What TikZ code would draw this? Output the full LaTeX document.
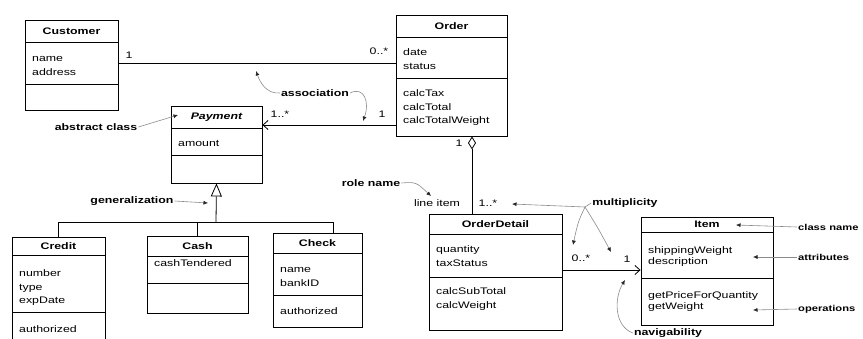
\documentclass[tikz,border=0pt]{standalone}
\usepackage{fontspec}
\setmainfont[FakeStretch=1.3]{Liberation Sans}
\usetikzlibrary{arrows.meta,fit,calc}

% geometry of a class box: left/top/right/divider1/divider2/bottom/attr-baseline/op-baseline/line-pitch
\def\bxgeom#1/#2/#3/#4/#5/#6/#7/#8/#9\relax{%
  \def\bxL{#1}\def\bxT{#2}\def\bxR{#3}\def\bxA{#4}\def\bxB{#5}%
  \def\bxD{#6}\def\bxP{#7}\def\bxQ{#8}\def\bxS{#9}}

% \umlclass{name}{geometry}{title}{attributes}{operations}
\newcommand\umlclass[5]{%
  \bxgeom#2\relax
  \node[classbox, fit={(\bxL,\bxT) (\bxR,\bxD)}] (#1) {};
  \draw[classline] (\bxL,\bxA) -- (\bxR,\bxA);
  \draw[classline] (\bxL,\bxB) -- (\bxR,\bxB);
  \node[classtitle] (#1-title) at ({(\bxL+\bxR)/2},{(\bxT+\bxA)/2}) {#3};
  \node[members] (#1-attrs) at (\bxL+7,\bxP-8) {\rule{0pt}{8pt}#4};
  \def\bxops{#5}%
  \ifx\bxops\empty\else
    \node[members] (#1-ops) at (\bxL+7,\bxQ-8) {\rule{0pt}{8pt}#5};
  \fi}

\tikzset{
  classbox/.style={draw=black, line width=0.9pt, inner sep=0pt, fill=white},
  classline/.style={draw=black, line width=0.9pt},
  classtitle/.style={inner sep=0pt, font=\bfseries\fontsize{9.5}{11}\selectfont},
  members/.style={inner sep=0pt, anchor=north west, align=left,
    font=\fontsize{9.5}{\bxS}\selectfont},
  link/.style={draw=black, line width=0.8pt},
  navlink/.style={link, -{Straight Barb[length=5pt,width=9pt]}},
  genlink/.style={link, -{Triangle[open,fill=white,length=13pt,width=11pt]}},
  agglink/.style={link, {Diamond[open,fill=white,length=13pt,width=8pt]}-},
  mult/.style={inner sep=1pt, font=\fontsize{9.5}{11}\selectfont},
  note/.style={inner sep=1pt, font=\bfseries\fontsize{9.5}{11}\selectfont},
  sidenote/.style={inner sep=1pt, anchor=west, font=\bfseries\fontsize{8.6}{10}\selectfont},
  annot/.style={draw=black!45, line width=0.6pt,
    -{Latex[length=4.5pt,width=4pt,color=black!85]}},
  annotplain/.style={draw=black!45, line width=0.6pt},
}

\begin{document}
\begin{tikzpicture}[x=1pt, y=-1pt]
\useasboundingbox (0,0) rectangle (863,338);
\fill[white] (0,0) rectangle (863,338);

% ---- classes ----
\umlclass{customer}{25/20/118/42/84/110/61.5/0/13.5}{Customer}{name\\address}{}
\umlclass{order}{396/15/507/37/78/136/55.5/96.5/13.5}{Order}{date\\status}{calcTax\\calcTotal\\calcTotalWeight}
\umlclass{payment}{171/106/262/128/155/183/146.5/0/13.5}{\itshape Payment}{amount}{}
\umlclass{credit}{12/237/105/255/312/350/276.5/332.5/13.5}{Credit}{number\\type\\expDate}{authorized}
\umlclass{cash}{147/236/248/256/283/313/266.5/0/13.5}{Cash}{cashTendered}{}
\umlclass{check}{273/233/362/253/295/327/272.5/314.5/13.5}{Check}{name\\bankID}{authorized}
\umlclass{orderdetail}{429/214/562/234/277/330/252.5/294.5/13.5}{OrderDetail}{quantity\\taxStatus}{calcSubTotal\\calcWeight}
\umlclass{item}{641/217/773/232/278/325/253.5/298.5/11}{Item}{shippingWeight\\description}{getPriceForQuantity\\getWeight}

% ---- helper coordinates for connector rows/columns ----
\coordinate (coY) at (0,63);
\coordinate (poY) at (0,125);
\coordinate (odY) at (0,270);
\coordinate (aggX) at (472,0);
\coordinate (gen) at (216,222);
\coordinate (genR) at (333,222);

% ---- associations ----
\draw[link] (customer.east |- coY) -- (order.west |- coY);
\draw[navlink] (order.west |- poY) -- (payment.east |- poY);
\draw[navlink] (orderdetail.east |- odY) -- (item.west |- odY);
\draw[agglink] (order.south -| aggX) -- (orderdetail.north -| aggX);

% ---- generalization tree ----
\draw[link] (credit.north) |- (genR) -- (check.north -| genR);
\draw[link] (cash.north) -- (cash.north |- gen);
\draw[genlink] (gen) -- (payment.south);

% ---- multiplicities and role ----
\node[mult] (m-cust) at (129,55) {1};
\node[mult] (m-ord) at (379,51) {0..*};
\node[mult] (m-pay) at (280,114) {1..*};
\node[mult] (m-ordp) at (382,114) {1};
\node[mult] (m-agg) at (459,143) {1};
\node[mult] (m-role) at (437,203) {line item};
\node[mult] (m-od) at (488,203) {1..*};
\node[mult] (m-odi) at (581,258) {0..*};
\node[mult] (m-item) at (627,259) {1};

% ---- annotation labels ----
\node[note] (n-assoc) at (315,93) {association};
\node[note] (n-abs) at (96,127) {abstract class};
\node[note] (n-gen) at (132,201) {generalization};
\node[note] (n-role) at (371,183) {role name};
\node[note] (n-mult) at (625,203) {multiplicity};
\node[note] (n-nav) at (668,333) {navigability};
\node[sidenote] (n-cls) at (797,227) {class name};
\node[sidenote] (n-att) at (797,257) {attributes};
\node[sidenote] (n-ops) at (797,309) {operations};

% ---- annotation pointers ----
\coordinate (p-assocA) at (256,71);
\coordinate (p-assocB) at (363,121);
\coordinate (p-abs) at (178,115);
\coordinate (p-gen) at (208,203);
\coordinate (p-role) at (431,196);
\coordinate (p-split) at (585,207);
\coordinate (p-mult1) at (512,204);
\coordinate (p-mult2) at (573,245);
\coordinate (p-mult3) at (611,252);
\coordinate (p-nav) at (625,280);
\coordinate (p-cls) at (736,225);
\coordinate (p-att) at (753,257);
\coordinate (p-ops) at (753,310);

\draw[annot] (n-assoc.west) .. controls (266,94) and (260,82) .. (p-assocA);
\draw[annot] (n-assoc.east) .. controls (364,86) and (370,102) .. (p-assocB);
\draw[annot] (n-abs.east) -- (p-abs);
\draw[annot] (n-gen.east) -- (p-gen);
\draw[annot] (n-role.east) .. controls (416,182) .. (p-role);
\draw[annotplain] (n-mult.west) -- (p-split);
\draw[annot] (p-split) -- (p-mult1);
\draw[annot] (p-split) .. controls (578,222) .. (p-mult2);
\draw[annot] (p-split) .. controls (598,228) .. (p-mult3);
\draw[annot] (n-nav.west) .. controls (614,326) and (614,298) .. (p-nav);
\draw[annot] (n-cls.west) -- (p-cls);
\draw[annot] (n-att.west) -- (p-att);
\draw[annot] (n-ops.west) -- (p-ops);
\end{tikzpicture}
\end{document}
